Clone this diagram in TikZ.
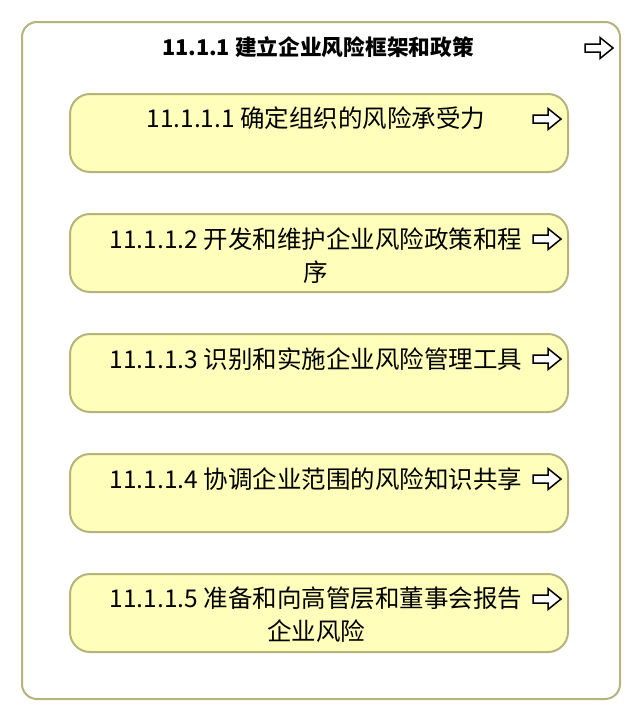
\documentclass[tikz,border=0pt]{standalone}
\usepackage{fontspec}
\setmainfont{Noto Sans CJK SC}
\definecolor{olivec}{HTML}{B4B47C}
\definecolor{yellowc}{HTML}{FFFFBB}
\tikzset{
  outerbox/.style={draw=olivec, line width=2pt, rounded corners=15pt, fill=white, inner sep=0pt},
  taskbox/.style={draw=olivec, line width=2pt, rounded corners=20pt, fill=yellowc, inner sep=0pt,
                  minimum width=498pt, minimum height=78pt, anchor=north west},
  titletext/.style={font=\fontsize{21.7}{26}\selectfont\bfseries, inner sep=0pt},
  tasktext/.style={font=\fontsize{24.5}{33}\selectfont, align=center, inner sep=0pt, anchor=north},
  fwd/.pic={\draw[line width=1.5pt, line join=miter, fill=white]
     (-14,-4) -- (1,-4) -- (1,-10.5) -- (14,0) -- (1,10.5) -- (1,4) -- (-14,4) -- cycle;}
}
\begin{document}
\begin{tikzpicture}[x=1pt,y=-1pt]
\useasboundingbox (0,0) rectangle (640,720);
\node[outerbox, minimum width=598pt, minimum height=677pt, anchor=north west] (outer) at (21,21) {};
\node[titletext] (title) at (318,47) {11.1.1 建立企业风险框架和政策};
\pic at (599,48) {fwd};

\node[taskbox] (b1) at (69,93) {};
\node[taskbox] (b2) at (69,213) {};
\node[taskbox] (b3) at (69,333) {};
\node[taskbox] (b4) at (69,453) {};
\node[taskbox] (b5) at (69,573) {};

\node[tasktext] (t1) at (316,107) {11.1.1.1 确定组织的风险承受力};
\node[tasktext] (t2) at (316,227) {11.1.1.2 开发和维护企业风险政策和程\\序};
\node[tasktext] (t3) at (316,347) {11.1.1.3 识别和实施企业风险管理工具};
\node[tasktext] (t4) at (316,467) {11.1.1.4 协调企业范围的风险知识共享};
\node[tasktext] (t5) at (316,587) {11.1.1.5 准备和向高管层和董事会报告\\企业风险};

\pic at (547,119) {fwd};
\pic at (547,239) {fwd};
\pic at (547,359) {fwd};
\pic at (547,479) {fwd};
\pic at (547,599) {fwd};
\end{tikzpicture}
\end{document}
